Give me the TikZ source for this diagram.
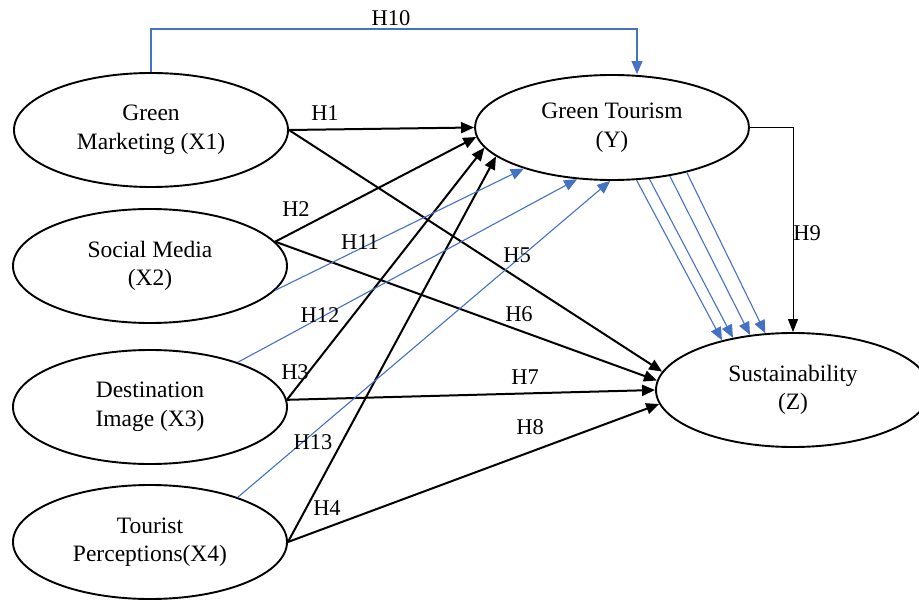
\documentclass[tikz,border=0pt]{standalone}
\usepackage{fontspec}
\setmainfont{Liberation Serif}
\usetikzlibrary{shapes.geometric,arrows.meta}
\definecolor{wordblue}{HTML}{4472C4}
\begin{document}
\begin{tikzpicture}[x=1pt,y=-1pt,
  latent/.style={ellipse, draw, line width=1.9pt, minimum width=274pt, minimum height=114pt,
    inner sep=0pt, align=center, font=\fontsize{23.5}{28.5}\selectfont},
  hpath/.style={line width=2pt, -{Triangle[length=13pt,width=11pt]}},
  medpath/.style={wordblue, line width=1.1pt, -{Triangle[length=13pt,width=11pt]}},
  thinpath/.style={line width=1pt, -{Triangle[length=13pt,width=10pt]}},
  hlab/.style={font=\fontsize{22.5}{24}\selectfont, inner sep=1pt}]
\useasboundingbox (0,0) rectangle (919,604);
\clip (0,0) rectangle (919,604);
% latent variables
\node[latent] (gm) at (151,130) {Green\\Marketing (X1)};
\node[latent] (sm) at (150,266) {Social Media\\(X2)};
\node[latent] (di) at (150,407) {Destination\\Image (X3)};
\node[latent] (tp) at (150,542) {Tourist\\Perceptions(X4)};
\node[latent, minimum height=105pt] (gt) at (612,127.5) {Green Tourism\\(Y)};
\node[latent] (sus) at (793,390) {Sustainability\\(Z)};
% direct paths to Y
\draw[hpath] (gm.east) -- (gt.west);
\draw[hpath] (sm.11) -- (gt.184);
\draw[hpath] (di.3) -- (gt.189);
\draw[hpath] (tp.east) -- (gt.194);
% direct paths to Z
\draw[hpath] (gm.east) -- (sus.172);
\draw[hpath] (sm.11) -- (sus.176);
\draw[hpath] (di.3) -- (sus.west);
\draw[hpath] (tp.east) -- (sus.186);
% Y to Z
\draw[thinpath] (gt.east) -| (sus.north);
% mediation paths
\coordinate (h10c) at (637,29);
\draw[medpath] (gm.north) |- (h10c) -- (h10c |- gt.north);
\draw[medpath] (sm.349) -- (gt.205);
\draw[medpath] (di.27) -- (gt.236);
\draw[medpath] (tp.27) -- (gt.268);
\draw[medpath] (gt.295) -- (sus.145);
\draw[medpath] (gt.306) -- (sus.139);
\draw[medpath] (gt.320) -- (sus.128);
\draw[medpath] (gt.329) -- (sus.116);
% labels
\node[hlab] (l10) at (391,18) {H10};
\node[hlab] (l1) at (325,113) {H1};
\node[hlab] (l2) at (296,209) {H2};
\node[hlab] (l11) at (360,242) {H11};
\node[hlab] (l12) at (320,315) {H12};
\node[hlab] (l3) at (295,372) {H3};
\node[hlab] (l13) at (313,442) {H13};
\node[hlab] (l4) at (327,508) {H4};
\node[hlab] (l5) at (517,255) {H5};
\node[hlab] (l6) at (519,314) {H6};
\node[hlab] (l7) at (525,377) {H7};
\node[hlab] (l8) at (530,427) {H8};
\node[hlab] (l9) at (807,233) {H9};
\end{tikzpicture}
\end{document}
